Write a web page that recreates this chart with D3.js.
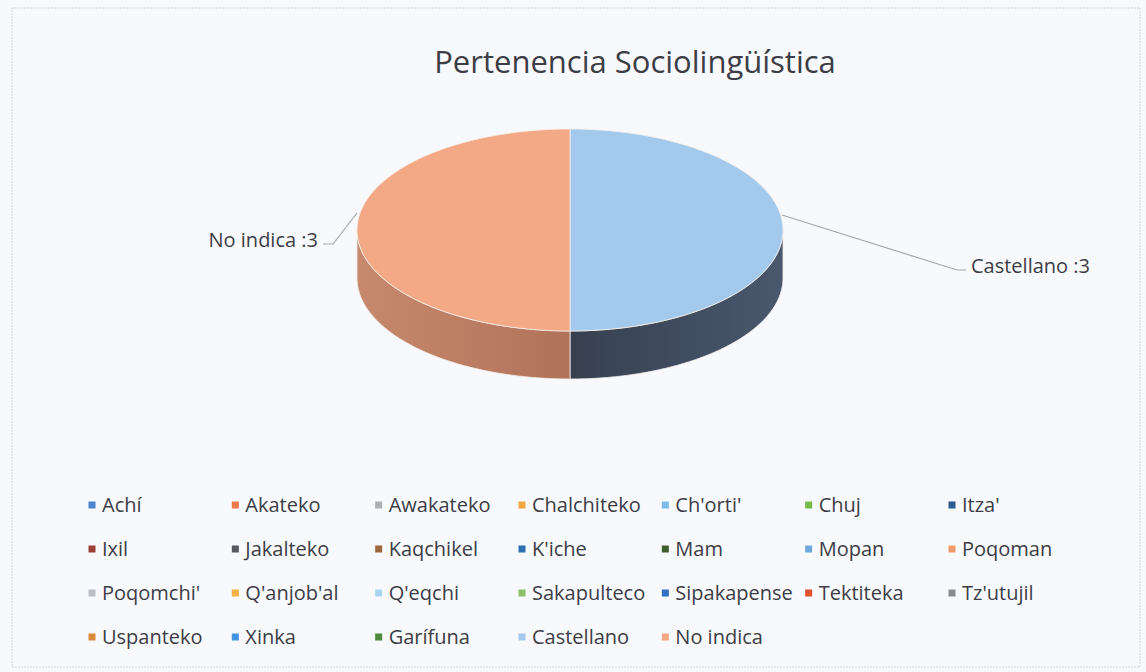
<!DOCTYPE html>
<html>
<head>
<meta charset="utf-8">
<script src="https://cdn.jsdelivr.net/npm/d3@7/dist/d3.min.js"></script>
<style>
  html, body { margin: 0; padding: 0; background: #f7f9fc; }
  svg { display: block; }
  text { font-family: "Open Sans", "Noto Sans", sans-serif; fill: #3d3d46; }
</style>
</head>
<body>
<svg id="chart" width="1146" height="672"></svg>
<script>
const title = "Pertenencia Sociolingüística";
const categories = ["Achí","Akateko","Awakateko","Chalchiteko","Ch'orti'","Chuj","Itza'",
  "Ixil","Jakalteko","Kaqchikel","K'iche","Mam","Mopan","Poqoman",
  "Poqomchi'","Q'anjob'al","Q'eqchi","Sakapulteco","Sipakapense","Tektiteka","Tz'utujil",
  "Uspanteko","Xinka","Garífuna","Castellano","No indica"];
const values = [0,0,0,0,0,0,0, 0,0,0,0,0,0,0, 0,0,0,0,0,0,0, 0,0,0,3,3];
const colors = ["#4a86d0","#ee7a4a","#b0b0b4","#f5a842","#7cbde9","#78b94a","#2c5a93",
  "#9c3f36","#595a5f","#a0653a","#2f6fb3","#3e5e30","#6fa8dc","#f39a6b",
  "#bdbdc5","#f6b043","#a8d5f0","#8cc06a","#2f6fc4","#e0502e","#8a8a8f",
  "#d98a3a","#3f95e0","#4f8a3a","#a3c9ec","#f3a886"];
const sideColors = {"Castellano": ["#4a586e", "#36404f"], "No indica": ["#b0735a", "#c7896d"]};

const svg = d3.select("#chart");

// border
svg.append("rect").attr("x", 12).attr("y", 8).attr("width", 1128).attr("height", 659)
  .attr("fill", "#f7f9fc").attr("stroke", "#d2d4d8").attr("stroke-width", 1).attr("stroke-dasharray", "2,1");

// title
svg.append("text").attr("x", 635).attr("y", 73).attr("text-anchor", "middle")
  .style("font-size", "31px").text(title);

// pie geometry
const cx = 570, cy = 230, rx = 213, ry = 101, depth = 48;
const data = categories.map((c, i) => ({name: c, value: values[i], color: colors[i]}));
const pie = d3.pie().sort(null).value(d => d.value).startAngle(0).endAngle(2 * Math.PI);
const arcs = pie(data).filter(a => a.data.value > 0);

const px = a => cx + rx * Math.sin(a);
const py = (a, dz = 0) => cy - ry * Math.cos(a) + dz;

function topPath(a0, a1) {
  const n = 80; let p = `M${cx},${cy}`;
  for (let i = 0; i <= n; i++) { const a = a0 + (a1 - a0) * i / n; p += `L${px(a)},${py(a)}`; }
  return p + "Z";
}
function sidePath(a0, a1) {
  const n = 80; let p = "";
  for (let i = 0; i <= n; i++) { const a = a0 + (a1 - a0) * i / n; p += (i ? "L" : "M") + `${px(a)},${py(a)}`; }
  for (let i = n; i >= 0; i--) { const a = a0 + (a1 - a0) * i / n; p += `L${px(a)},${py(a, depth)}`; }
  return p + "Z";
}

const defs = svg.append("defs");
arcs.forEach((a, i) => {
  const s0 = Math.max(a.startAngle, Math.PI / 2), s1 = Math.min(a.endAngle, 3 * Math.PI / 2);
  if (s1 <= s0) return;
  const sc = sideColors[a.data.name] || [d3.color(a.data.color).darker(1), d3.color(a.data.color).darker(1.5)];
  const gid = "side" + i;
  const g = defs.append("linearGradient").attr("id", gid).attr("gradientUnits", "userSpaceOnUse")
    .attr("x1", px(s0)).attr("y1", 0).attr("x2", px(s1)).attr("y2", 0);
  g.append("stop").attr("offset", 0).attr("stop-color", sc[0]);
  g.append("stop").attr("offset", 1).attr("stop-color", sc[1]);
  svg.append("path").attr("d", sidePath(s0, s1)).attr("fill", `url(#${gid})`)
    .attr("stroke", "#f4eee8").attr("stroke-width", 0.8);
});
arcs.forEach(a => {
  svg.append("path").attr("d", topPath(a.startAngle, a.endAngle)).attr("fill", a.data.color)
    .attr("stroke", "#f6efe8").attr("stroke-width", 0.8);
});

// data labels with leader lines
const labelSpec = {
  "Castellano": {line: [[782, 215], [957, 270], [966, 270]], tx: 971, ty: 273, anchor: "start"},
  "No indica": {line: [[357, 213], [333, 244], [323, 244]], tx: 318, ty: 247, anchor: "end"}
};
arcs.forEach(a => {
  const s = labelSpec[a.data.name]; if (!s) return;
  svg.append("path").attr("d", d3.line()(s.line)).attr("fill", "none")
    .attr("stroke", "#a6a8ad").attr("stroke-width", 1.2);
  svg.append("text").attr("x", s.tx).attr("y", s.ty).attr("text-anchor", s.anchor)
    .style("font-size", "20px").text(`${a.data.name} :${a.data.value}`);
});

// legend
const cols = 7;
const colX = d3.scaleLinear().domain([0, cols - 1]).range([92, 952]);
const rowY = d3.scaleLinear().domain([0, 3]).range([505, 637]);
const leg = svg.append("g");
data.forEach((d, i) => {
  const c = i % cols, r = Math.floor(i / cols);
  const g = leg.append("g").attr("transform", `translate(${colX(c)},${rowY(r)})`);
  g.append("rect").attr("x", -3.5).attr("y", -3.5).attr("width", 7).attr("height", 7).attr("fill", d.color);
  g.append("text").attr("x", 10).attr("y", 7).style("font-size", "20px").text(d.name);
});
</script>
</body>
</html>
